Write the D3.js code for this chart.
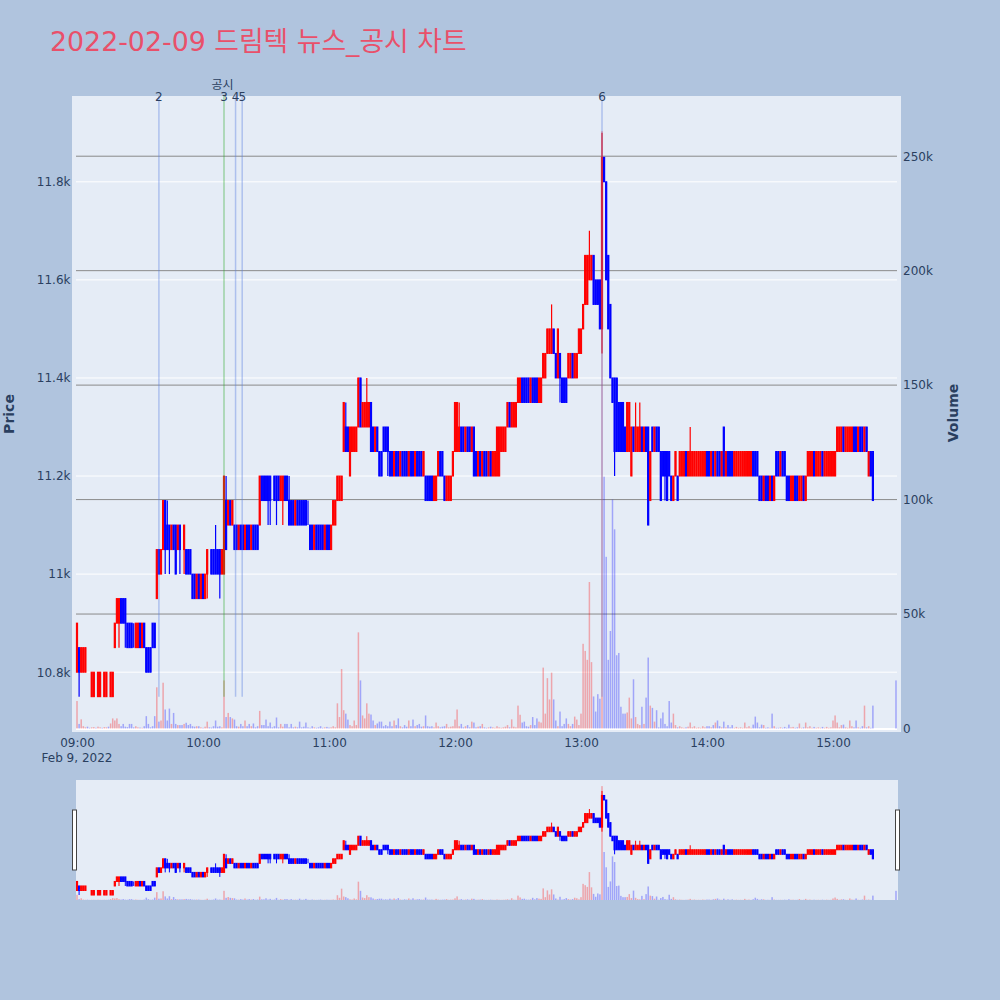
<!DOCTYPE html>
<html><head><meta charset="utf-8">
<script src="https://cdn.jsdelivr.net/npm/d3@7"></script>
<style>body{margin:0;background:#b0c4de}svg{display:block}</style>
</head><body>
<svg id="c" width="1000" height="1000"></svg>
<script>
// ---------------- DATA ----------------
const chartTitle = "2022-02-09 드림텍 뉴스_공시 차트";
const tradeDate = "2022-02-09";
const sessionStart = "09:00";
const auctionTime = "15:30"; // last element of the arrays below
const openP = [
10800,10850,10800,10800,10800,10800,10800,10750,10750,10750,
10750,10750,10750,10750,10750,10750,10750,10750,10850,10900,
10900,10950,10950,10950,10900,10900,10900,10850,10850,10850,
10900,10850,10900,10850,10850,10850,10900,10900,10950,11050,
11000,11050,11150,11100,11100,11050,11100,11100,11050,11100,
11050,11050,11050,11050,11050,11000,11000,10950,11000,10950,
11000,10950,11000,11050,11050,11050,11050,11050,11050,11000,
11000,11150,11100,11150,11100,11100,11100,11050,11100,11100,
11050,11100,11100,11050,11100,11100,11100,11100,11200,11200,
11200,11200,11200,11150,11200,11200,11200,11150,11150,11200,
11200,11150,11150,11150,11100,11150,11150,11150,11150,11150,
11150,11100,11100,11050,11100,11100,11100,11100,11050,11100,
11100,11050,11100,11100,11150,11150,11150,11250,11300,11300,
11200,11250,11250,11250,11300,11400,11300,11300,11300,11300,
11350,11300,11250,11300,11250,11250,11300,11300,11300,11250,
11250,11200,11250,11250,11200,11250,11250,11250,11200,11250,
11250,11200,11250,11250,11250,11200,11200,11200,11200,11200,
11150,11150,11200,11250,11250,11200,11150,11150,11150,11200,
11250,11250,11250,11300,11300,11250,11300,11300,11250,11300,
11250,11200,11250,11200,11250,11250,11200,11250,11200,11200,
11200,11200,11250,11250,11250,11300,11350,11300,11300,11300,
11350,11350,11400,11400,11400,11400,11350,11400,11400,11400,
11350,11350,11400,11400,11450,11450,11450,11500,11450,11400,
11450,11400,11400,11400,11400,11400,11450,11400,11400,11450,
11450,11500,11550,11550,11600,11600,11650,11600,11600,11600,
11500,11850,11800,11650,11550,11400,11400,11400,11350,11350,
11350,11300,11250,11250,11200,11300,11250,11250,11250,11300,
11250,11300,11300,11150,11300,11250,11300,11300,11250,11250,
11250,11250,11250,11200,11150,11200,11200,11200,11200,11200,
11250,11200,11200,11200,11200,11200,11200,11200,11200,11200,
11250,11250,11200,11250,11200,11250,11250,11200,11300,11200,
11250,11250,11250,11200,11200,11200,11200,11200,11200,11200,
11200,11200,11250,11250,11250,11200,11200,11150,11200,11200,
11150,11200,11150,11250,11250,11200,11250,11250,11200,11200,
11150,11150,11200,11200,11150,11150,11200,11150,11200,11200,
11200,11250,11200,11200,11200,11250,11200,11200,11200,11200,
11200,11200,11250,11250,11250,11300,11250,11250,11250,11250,
11300,11300,11250,11300,11300,11250,11300,11200,11250,11250,
11150];
const highP = [
10900,10850,10850,10850,10850,10800,10800,10800,10800,10750,
10800,10800,10750,10800,10800,10750,10800,10800,10900,10950,
10950,10950,10950,10950,10900,10900,10900,10900,10900,10900,
10900,10900,10900,10850,10850,10850,10900,10900,11050,11050,
11050,11150,11150,11150,11100,11100,11100,11100,11100,11100,
11050,11100,11050,11050,11050,11000,11000,11000,11000,11000,
11000,11000,11050,11050,11050,11050,11100,11050,11050,11050,
11200,11200,11150,11150,11150,11100,11100,11100,11100,11100,
11100,11100,11100,11100,11100,11100,11100,11200,11200,11200,
11200,11200,11200,11150,11200,11200,11200,11200,11200,11200,
11200,11200,11150,11150,11150,11150,11150,11150,11150,11150,
11150,11100,11100,11100,11100,11100,11100,11100,11100,11100,
11100,11100,11150,11150,11200,11200,11200,11350,11350,11300,
11300,11300,11300,11300,11400,11400,11350,11350,11400,11350,
11350,11300,11300,11300,11250,11250,11300,11300,11300,11250,
11250,11250,11250,11250,11250,11250,11250,11250,11250,11250,
11250,11250,11250,11250,11250,11250,11200,11200,11200,11200,
11200,11200,11250,11250,11250,11200,11200,11200,11200,11250,
11350,11350,11350,11300,11300,11300,11300,11300,11300,11300,
11250,11250,11250,11250,11250,11250,11250,11250,11250,11250,
11300,11300,11300,11300,11300,11350,11350,11350,11350,11350,
11400,11400,11400,11400,11400,11400,11400,11400,11400,11400,
11400,11400,11450,11450,11500,11500,11550,11500,11450,11500,
11450,11400,11400,11400,11450,11450,11450,11450,11450,11500,
11500,11550,11650,11650,11700,11650,11650,11600,11600,11600,
11900,11850,11800,11650,11550,11400,11400,11400,11350,11350,
11350,11300,11350,11350,11300,11300,11350,11300,11350,11300,
11300,11300,11300,11250,11300,11300,11300,11300,11250,11250,
11250,11250,11250,11200,11200,11250,11200,11250,11250,11250,
11250,11250,11300,11250,11250,11250,11250,11250,11250,11250,
11250,11250,11250,11250,11250,11250,11250,11250,11300,11250,
11250,11250,11250,11250,11250,11250,11250,11250,11250,11250,
11250,11250,11250,11250,11250,11200,11200,11200,11200,11200,
11200,11200,11200,11250,11250,11250,11250,11250,11200,11200,
11200,11200,11200,11200,11200,11200,11200,11200,11250,11250,
11250,11250,11250,11250,11250,11250,11250,11250,11250,11250,
11250,11250,11300,11300,11300,11300,11300,11300,11300,11300,
11300,11300,11300,11300,11300,11300,11300,11250,11250,11250,
11150];
const lowP = [
10800,10750,10800,10800,10800,10800,10800,10750,10750,10750,
10750,10750,10750,10750,10750,10750,10750,10750,10850,10900,
10850,10900,10900,10850,10850,10850,10850,10850,10850,10850,
10850,10850,10850,10800,10800,10800,10850,10850,10950,11000,
11000,11050,11000,11050,11000,11050,11050,11000,11050,11000,
11050,11000,11000,11000,11000,10950,10950,10950,10950,10950,
10950,10950,10950,11050,11000,11000,11000,11000,10950,11000,
11000,11050,11100,11100,11100,11050,11050,11050,11050,11050,
11050,11050,11050,11050,11050,11050,11050,11100,11150,11150,
11150,11100,11100,11150,11150,11100,11150,11150,11100,11150,
11150,11100,11100,11100,11100,11100,11100,11100,11100,11100,
11100,11050,11050,11050,11050,11050,11050,11050,11050,11050,
11050,11050,11100,11100,11150,11150,11150,11250,11250,11250,
11200,11250,11250,11250,11300,11300,11300,11300,11300,11300,
11250,11250,11250,11250,11200,11200,11250,11250,11200,11200,
11200,11200,11200,11200,11200,11200,11200,11200,11200,11200,
11200,11200,11200,11200,11200,11200,11150,11150,11150,11150,
11150,11150,11200,11200,11200,11150,11150,11150,11150,11200,
11250,11250,11250,11250,11250,11250,11250,11250,11250,11200,
11200,11200,11200,11200,11200,11200,11200,11200,11200,11200,
11200,11200,11250,11250,11250,11300,11300,11300,11300,11300,
11350,11350,11350,11350,11350,11350,11350,11350,11350,11350,
11350,11350,11400,11400,11450,11450,11450,11450,11400,11400,
11350,11350,11350,11350,11400,11400,11400,11400,11400,11450,
11450,11500,11550,11550,11600,11600,11550,11550,11550,11500,
11450,11800,11600,11500,11400,11350,11200,11250,11250,11250,
11250,11250,11250,11250,11200,11250,11250,11250,11250,11250,
11250,11250,11100,11150,11250,11250,11250,11250,11150,11200,
11150,11150,11200,11150,11150,11200,11150,11200,11200,11200,
11200,11200,11200,11200,11200,11200,11200,11200,11200,11200,
11200,11200,11200,11200,11200,11200,11200,11200,11200,11200,
11200,11200,11200,11200,11200,11200,11200,11200,11200,11200,
11200,11200,11200,11200,11200,11150,11150,11150,11150,11150,
11150,11150,11150,11200,11200,11200,11200,11200,11150,11150,
11150,11150,11150,11150,11150,11150,11150,11150,11200,11200,
11200,11200,11200,11200,11200,11200,11200,11200,11200,11200,
11200,11200,11250,11250,11250,11250,11250,11250,11250,11250,
11250,11250,11250,11250,11250,11250,11250,11200,11200,11150,
11150];
const closeP = [
10900,10800,10850,10850,10850,10800,10800,10800,10800,10750,
10800,10800,10750,10800,10800,10750,10800,10800,10900,10950,
10950,10900,10900,10900,10850,10850,10850,10850,10900,10900,
10850,10900,10850,10800,10800,10800,10850,10850,11050,11000,
11050,11150,11050,11050,11050,11100,11050,11000,11100,11050,
11050,11100,11000,11000,11000,10950,10950,11000,10950,11000,
10950,11000,11050,11050,11000,11000,11000,11000,11000,11050,
11200,11050,11150,11100,11150,11050,11050,11100,11050,11050,
11100,11050,11050,11100,11050,11050,11050,11200,11150,11150,
11150,11150,11150,11150,11150,11150,11150,11200,11200,11150,
11150,11100,11100,11100,11150,11100,11100,11100,11100,11100,
11150,11050,11050,11100,11050,11050,11050,11050,11100,11050,
11050,11100,11150,11150,11200,11200,11200,11350,11250,11250,
11300,11300,11300,11300,11400,11300,11350,11350,11350,11350,
11250,11250,11300,11250,11200,11200,11250,11250,11250,11200,
11200,11250,11200,11200,11250,11200,11200,11200,11250,11200,
11200,11250,11200,11200,11200,11250,11150,11150,11150,11150,
11200,11200,11250,11200,11200,11150,11200,11200,11200,11250,
11350,11350,11300,11250,11250,11300,11250,11250,11300,11200,
11200,11250,11200,11250,11200,11200,11250,11200,11250,11250,
11300,11300,11300,11300,11300,11350,11300,11350,11350,11350,
11400,11400,11350,11350,11350,11350,11400,11350,11350,11350,
11400,11400,11450,11450,11500,11500,11500,11450,11400,11500,
11400,11350,11350,11350,11450,11450,11400,11450,11450,11500,
11500,11550,11650,11650,11650,11650,11550,11550,11550,11500,
11850,11800,11600,11500,11400,11350,11250,11250,11250,11250,
11250,11250,11350,11350,11300,11250,11300,11300,11300,11250,
11300,11250,11100,11250,11250,11300,11250,11250,11150,11200,
11200,11150,11200,11150,11200,11250,11150,11250,11250,11250,
11200,11250,11250,11250,11250,11250,11250,11250,11250,11250,
11200,11200,11250,11200,11250,11200,11200,11250,11200,11250,
11200,11200,11200,11250,11250,11250,11250,11250,11250,11250,
11250,11250,11200,11200,11200,11150,11150,11200,11150,11150,
11200,11150,11200,11200,11200,11250,11200,11200,11150,11150,
11200,11200,11150,11150,11200,11200,11150,11200,11250,11250,
11250,11200,11250,11250,11250,11200,11250,11250,11250,11250,
11250,11250,11300,11300,11300,11250,11300,11300,11300,11300,
11250,11250,11300,11250,11250,11300,11250,11250,11200,11150,
11150];
const volume = [
12000,2000,4000,1000,500,800,300,500,600,300,
800,500,300,600,500,800,2200,4400,3500,4400,
2000,1000,2000,800,600,2000,2000,500,1000,500,
400,300,1000,5400,2000,500,1000,5400,18000,3000,
3500,20000,8300,3500,8700,2000,6800,2000,1500,1500,
1500,2000,2500,1500,2000,1000,800,1000,1000,500,
300,800,3000,500,400,1000,3500,800,1000,500,
21000,5000,6800,5000,4400,3900,1000,800,2000,1000,
3500,1000,2000,1000,2200,500,1000,7700,1500,1500,
3900,1000,2600,500,1000,4800,500,2000,800,2000,
2000,500,2000,500,800,500,3000,500,800,2600,
500,300,1000,500,300,500,1000,300,500,700,
400,500,1000,500,11000,5000,26000,8000,6500,3900,
1500,1000,3500,1500,42000,21000,5700,4400,11000,6500,
6100,3500,1500,2200,3000,3000,1000,1500,1000,3000,
1000,3500,1500,4400,1000,500,1500,800,3500,1000,
3900,1000,1500,2000,800,1000,5700,1000,800,1000,
500,2600,1000,500,800,1000,2000,500,800,1000,
3900,8300,1000,2000,500,1000,1500,500,3000,2600,
500,800,1000,2000,500,300,500,800,500,300,
1000,500,300,500,800,1500,500,4000,800,500,
10000,6000,2600,3000,1000,800,1500,5000,1500,4400,
3000,2600,26600,6500,22000,12700,24400,12700,3500,1000,
7400,1000,2000,4400,2000,1000,2000,5200,3900,1500,
6500,37000,33900,30000,64000,29000,14000,7400,15000,13000,
261000,110000,75000,30000,42600,100000,87000,32000,33000,9500,
6500,6500,7000,13500,4400,21500,5000,2000,1500,9500,
2000,13500,31000,10000,9000,3000,8000,500,4400,7000,
2000,1000,12000,2600,6500,1500,500,1000,500,300,
500,800,2600,500,1000,300,500,300,1000,500,
1000,1000,500,1500,2600,3500,1000,500,3000,500,
1500,500,1500,300,700,300,500,300,2600,500,
1000,300,1700,5200,2600,500,1700,1500,300,500,
300,6500,1000,300,300,500,300,700,300,1700,
500,700,300,500,2200,300,500,2600,500,1000,
300,700,300,500,300,700,300,700,300,500,
3500,5700,2600,500,1500,1700,500,300,3500,1000,
500,3500,500,300,1000,10000,500,1000,300,10000,
21000];
const priceTicks = [10800,11000,11200,11400,11600,11800];
const priceTickLabels = ["10.8k","11k","11.2k","11.4k","11.6k","11.8k"];
const volumeTicks = [0,50000,100000,150000,200000,250000];
const volumeTickLabels = ["0","50k","100k","150k","200k","250k"];
const timeTickLabels = ["09:00","10:00","11:00","12:00","13:00","14:00","15:00"];
const dateLabel = "Feb 9, 2022";
const eventTimes = ["09:39:00","10:10:00","10:15:30","10:18:40","13:10:00"];
const eventLabels = ["2","3","4","5","6"];
const eventKinds = ["news","disclosure","news","news","news"];
const disclosureLabel = "공시";
const eventLow = 10750;

// ---------------- LAYOUT ----------------
const parse = d3.timeParse("%Y-%m-%d %H:%M:%S");
const T = s => parse(tradeDate + " " + (s.length === 5 ? s + ":00" : s));
const t0 = T(sessionStart);
const n = openP.length;
const data = openP.map((o, i) => ({
  t: i < n - 1 ? d3.timeMinute.offset(t0, i) : T(auctionTime),
  o, h: highP[i], l: lowP[i], c: closeP[i], v: volume[i]
}));
const up = d => d.c > d.o;

const PL = 72, PR = 901, PT = 96, PB = 732;
const svg = d3.select("#c");
const FONT = "'DejaVu Sans', 'Noto Sans CJK KR', sans-serif";
const TXT = "#2a3f5f";

svg.append("rect").attr("width", 1000).attr("height", 1000).attr("fill", "#b0c4de");
svg.append("text").attr("x", 50).attr("y", 50.5).attr("font-family", FONT)
  .attr("font-size", 26.8).attr("fill", "#e9506a").text(chartTitle);

const x = d3.scaleTime().domain([T("08:57:37"), T("15:32:23")]).range([PL, PR]);
const y = d3.scaleLinear().domain([10678, 11975]).range([PB, PT]);
const yv = d3.scaleLinear().domain([0, 276300]).range([728.5, PT]);

svg.append("rect").attr("x", PL).attr("y", PT).attr("width", PR - PL).attr("height", PB - PT).attr("fill", "#e5ecf6");

const main = svg.append("g");
// grid
main.selectAll(".pg").data(priceTicks).join("line")
  .attr("x1", 76).attr("x2", 897).attr("y1", d => y(d)).attr("y2", d => y(d))
  .attr("stroke", "#fff").attr("stroke-width", 1);
main.selectAll(".vg").data(volumeTicks.slice(1)).join("line")
  .attr("x1", 76).attr("x2", 897).attr("y1", d => yv(d)).attr("y2", d => yv(d))
  .attr("stroke", "#8a8a8a").attr("stroke-width", 1);
main.append("line").attr("x1", 76).attr("x2", 897).attr("y1", yv(0) + 0.5).attr("y2", yv(0) + 0.5)
  .attr("stroke", "#fff").attr("stroke-width", 2);

function drawVolume(g, xs, ys, w) {
  g.selectAll("rect.v").data(data).join("rect").attr("class", "v")
    .attr("x", d => xs(d.t) - w / 2).attr("width", w)
    .attr("y", d => ys(d.v)).attr("height", d => ys(0) - ys(d.v))
    .attr("fill", d => up(d) ? "rgba(255,0,0,0.3)" : "rgba(0,0,255,0.3)");
}
function drawCandles(g, xs, ys, bw, sw, ww) {
  const c = g.selectAll("g.c").data(data).join("g").attr("class", "c");
  c.append("line").attr("x1", d => xs(d.t)).attr("x2", d => xs(d.t))
    .attr("y1", d => ys(d.h)).attr("y2", d => ys(d.l))
    .attr("stroke", d => up(d) ? "#ff0000" : "#0000ff").attr("stroke-width", ww);
  c.append("rect").attr("x", d => xs(d.t) - bw / 2).attr("width", bw)
    .attr("y", d => ys(Math.max(d.o, d.c))).attr("height", d => Math.abs(ys(d.o) - ys(d.c)))
    .attr("fill", d => up(d) ? "#ff0000" : "#0000ff")
    .attr("stroke", d => up(d) ? "#ff0000" : "#0000ff").attr("stroke-width", sw);
}
drawVolume(main.append("g"), x, yv, 1.5);
drawCandles(main.append("g"), x, y, 1.2, 1, 1.2);

// event lines
const ev = main.append("g");
eventTimes.forEach((s, i) => {
  const xx = x(T(s));
  ev.append("line").attr("x1", xx).attr("x2", xx).attr("y1", PT).attr("y2", y(eventLow))
    .attr("stroke", eventKinds[i] === "disclosure" ? "#2eaa2e" : "#5a7fe0")
    .attr("stroke-opacity", 0.4).attr("stroke-width", 1.5);
  ev.append("text").attr("x", xx).attr("y", 100.5).attr("text-anchor", "middle")
    .attr("font-family", FONT).attr("font-size", 12).attr("fill", TXT).text(eventLabels[i]);
  if (eventKinds[i] === "disclosure") {
    ev.append("text").attr("x", xx - 1.5).attr("y", 89).attr("text-anchor", "middle")
      .attr("font-family", FONT).attr("font-size", 12).attr("fill", TXT).text(disclosureLabel);
  }
});

// axes
const styleAxis = g => {
  g.select(".domain").remove();
  g.selectAll("text").attr("font-family", FONT).attr("font-size", 12).attr("fill", TXT);
};
svg.append("g").attr("transform", `translate(${PL},0)`)
  .call(d3.axisLeft(y).tickValues(priceTicks).tickFormat((d, i) => priceTickLabels[i]).tickSize(0).tickPadding(1.5))
  .call(styleAxis);
svg.append("g").attr("transform", `translate(${PR},0)`)
  .call(d3.axisRight(yv).tickValues(volumeTicks).tickFormat((d, i) => volumeTickLabels[i]).tickSize(0).tickPadding(2))
  .call(styleAxis);
const timeTicks = timeTickLabels.map(T);
svg.append("g").attr("transform", `translate(0,${PB})`)
  .call(d3.axisBottom(x).tickValues(timeTicks).tickFormat((d, i) => timeTickLabels[i]).tickSize(0).tickPadding(6))
  .call(styleAxis);
svg.append("text").attr("x", x(t0)).attr("y", 761.5).attr("text-anchor", "middle")
  .attr("font-family", FONT).attr("font-size", 12).attr("fill", TXT).text(dateLabel);
svg.append("text").attr("transform", "translate(14,414) rotate(-90)").attr("text-anchor", "middle")
  .attr("font-family", FONT).attr("font-size", 14).attr("font-weight", "bold").attr("fill", TXT).text("Price");
svg.append("text").attr("transform", "translate(958,413) rotate(-90)").attr("text-anchor", "middle")
  .attr("font-family", FONT).attr("font-size", 14).attr("font-weight", "bold").attr("fill", TXT).text("Volume");

// range slider
const SL = 76, SR = 898, ST = 780, SB = 900;
svg.append("defs").append("clipPath").attr("id", "sc").append("rect")
  .attr("x", SL).attr("y", ST).attr("width", SR - SL).attr("height", SB - ST);
svg.append("rect").attr("x", SL).attr("y", ST).attr("width", SR - SL).attr("height", SB - ST).attr("fill", "#e5ecf6");
const ys2 = d3.scaleLinear().domain([10695, 12021]).range([SB, ST]);
const yv2 = d3.scaleLinear().domain([0, 275000]).range([SB, ST]);
const sg = svg.append("g").attr("clip-path", "url(#sc)");
drawVolume(sg.append("g"), x, yv2, 1.5);
drawCandles(sg.append("g"), x, ys2, 1.2, 1, 1);
[SL - 1.5, SR - 0.5].forEach(hx => {
  svg.append("rect").attr("x", hx - 2).attr("y", 810).attr("width", 4).attr("height", 60)
    .attr("fill", "#fff").attr("stroke", "#444").attr("stroke-width", 1);
});
</script>
</body></html>
